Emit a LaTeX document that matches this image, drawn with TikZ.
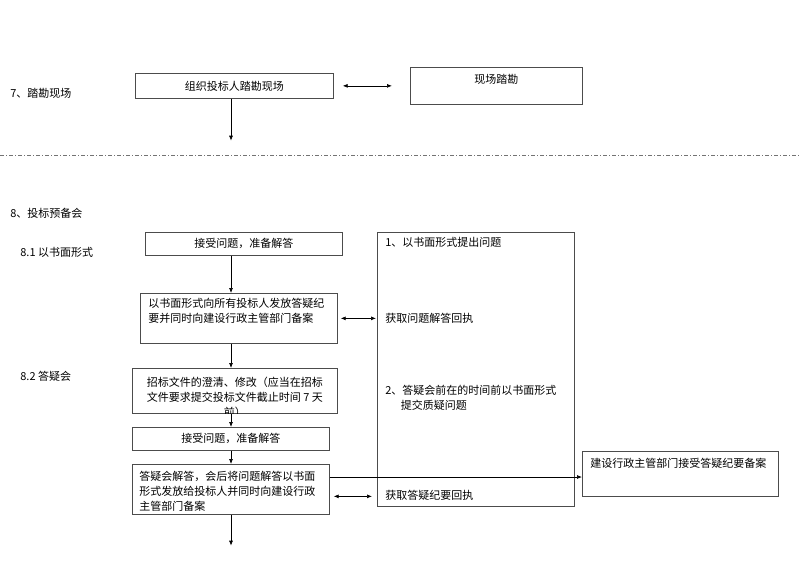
\documentclass[tikz,border=0pt]{standalone}
\usepackage{fontspec}
\newfontfamily\cjk{Noto Sans CJK SC}
\usepackage{tikz}
\usetikzlibrary{arrows.meta, calc}

\begin{document}
\begin{tikzpicture}[x=1pt, y=-1pt, line width=0.7pt, >={Latex[length=5pt, width=4pt]},
  every node/.style={font=\cjk\fontsize{11}{15}\selectfont, inner sep=0pt, text=black},
  box/.style={draw=black!70, anchor=north west},
  txt/.style={anchor=west, align=left}]

\useasboundingbox (0,0) rectangle (800,566);
\coordinate (col) at (231,0);

% 7
\node(l7)[txt] at (10,93) {7、踏勘现场};
\node(org)[box, minimum width=198pt, minimum height=25pt] at (135,73) {组织投标人踏勘现场};
\node(site)[box, minimum width=172pt, minimum height=37pt] at (410,67) {};
\node(sitet) at ($(site.north)+(0,12)$) {现场踏勘};
\draw[<->, shorten <=9pt, shorten >=18pt] (org.east) -- (org.east -| site.west);
\draw[->] (org.south -| col) -- ++(0,42);

\draw[black!55, line width=0.8pt, dash pattern=on 4pt off 2pt on 1pt off 2pt] (0,155) -- (800,155);

% 8
\node(l8)[txt] at (10,213) {8、投标预备会};
\node(l81)[txt] at (20,252) {8.1 以书面形式};
\node(l82)[txt] at (20,376) {8.2 答疑会};

\node(q)[box, minimum width=197pt, minimum height=274pt] at (377,232) {};
\node(q1)[txt] at ($(q.north west)+(8,10)$) {1、以书面形式提出问题};

\node(a1)[box, minimum width=197pt, minimum height=23pt] at (145,232) {接受问题，准备解答};
\node(a2)[box, minimum width=197pt, minimum height=50pt] at (140,293) {};
\node(a2t)[txt, anchor=north west] at ($(a2.north west)+(8,5)$) {以书面形式向所有投标人发放答疑纪\\要并同时向建设行政主管部门备案};
\draw[->] (a1.south -| col) -- (a2.north -| col);
\draw[<->, shorten <=3pt, shorten >=1pt] (a2.east) -- (a2.east -| q.west);
\node(q2)[txt] at ($(a2.east -| q.west)+(8,0)$) {获取问题解答回执};

\node(b1)[box, minimum width=205pt, minimum height=45pt] at (132,368) {};
\begin{scope}
\clip (b1.north west) rectangle (b1.south east);
\node(b1t)[align=center] at ($(b1.center)+(0,6.5)$) {招标文件的澄清、修改（应当在招标\\文件要求提交投标文件截止时间 7 天\\前）};
\end{scope}
\draw[->] (a2.south -| col) -- (b1.north -| col);

\node(q3)[txt, anchor=north west] at ($(q.north west)+(8,153)$) {2、答疑会前在的时间前以书面形式\\\hspace*{1.4em}提交质疑问题};

\node(b2)[box, minimum width=197pt, minimum height=23pt] at (132,427) {接受问题，准备解答};
\draw[->] (b1.south -| col) -- (b2.north -| col);

\node(b3)[box, minimum width=197pt, minimum height=50pt] at (132,464) {};
\node(b3t)[txt, anchor=north west] at ($(b3.north west)+(7,7)$) {答疑会解答，会后将问题解答以书面\\形式发放给投标人并同时向建设行政\\主管部门备案};
\draw[->] (b2.south -| col) -- (b3.north -| col);
\draw[->] (b3.south -| col) -- ++(0,31);

\node(r)[box, minimum width=196pt, minimum height=45pt] at (582,451) {};
\node(rt)[txt] at ($(r.north west)+(8,12)$) {建设行政主管部门接受答疑纪要备案};
\coordinate (m1) at ($(b3.north east)+(0,13)$);
\draw[->] (m1) -- (m1 -| r.west);

\coordinate (m2) at ($(b3.east)+(0,7)$);
\draw[<->, shorten <=4pt, shorten >=5pt] (m2) -- (m2 -| q.west);
\node(q4)[txt] at ($(m2 -| q.west)+(8,-1)$) {获取答疑纪要回执};

\end{tikzpicture}
\end{document}
